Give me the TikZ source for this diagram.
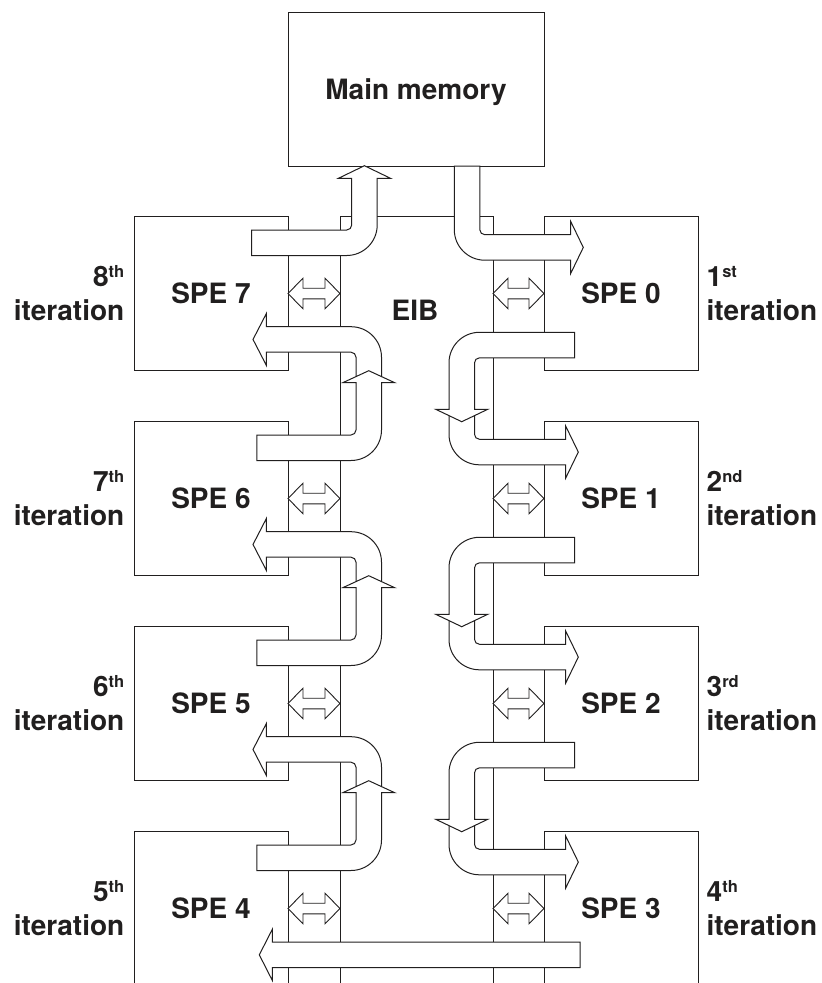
\documentclass[tikz,border=0pt]{standalone}
\usepackage{fontspec}
\setmainfont{TeX Gyre Heros}
\definecolor{ink}{rgb}{0.13,0.12,0.12}
\tikzset{
  box/.style={draw=ink, line width=1pt, minimum width=154pt, minimum height=154pt, inner sep=0pt,
    font=\fontsize{28}{33}\selectfont\bfseries, text=ink},
  fat/.style={draw=ink, fill=white, line width=1pt, line join=miter},
  thin/.style={draw=ink, fill=white, line width=0.9pt, line join=miter},
  bus/.style={draw=ink, line width=1pt},
  lbl/.style={font=\fontsize{28}{33}\selectfont\bfseries, text=ink, inner sep=0pt},
}
% superscript ordinal
\newcommand\ordn[2]{#1\raisebox{9pt}{\fontsize{16.5}{16.5}\selectfont #2}}
% D-type: down then right.  #1 xo, #2 ytop, #3 ya, #4 head base x, #5 tip x
\newcommand\fatD[5]{%
  \pgfmathsetmacro\pxi{#1+25.5}\pgfmathsetmacro\pyb{#3+25.5}\pgfmathsetmacro\pyc{#3+12.75}%
  \draw[fat] (\pxi,#2) -- (\pxi,{#3-5}) arc[start angle=180,end angle=90,radius=5]
    -- (#4,#3) -- (#4,{\pyc-26}) -- (#5,\pyc) -- (#4,{\pyc+26}) -- (#4,\pyb)
    -- ({#1+30.5},\pyb) arc[start angle=90,end angle=180,radius=30.5] -- (#1,#2) -- cycle;}
% C-type: left then down.  #1 xtail, #2 ya, #3 xo, #4 head base y, #5 tip y
\newcommand\fatC[5]{%
  \pgfmathsetmacro\pxi{#3+25.5}\pgfmathsetmacro\pyb{#2+25.5}\pgfmathsetmacro\pxc{#3+12.75}%
  \draw[fat] (#1,#2) -- ({#3+30.5},#2) arc[start angle=270,end angle=180,radius=30.5]
    -- (#3,#4) -- ({\pxc-26},#4) -- (\pxc,#5) -- ({\pxc+26},#4) -- (\pxi,#4)
    -- (\pxi,{\pyb+5}) arc[start angle=180,end angle=270,radius=5] -- (#1,\pyb) -- cycle;}
% F-type: right then up.  #1 xtail, #2 ya, #3 xi, #4 head base y, #5 tip y
\newcommand\fatF[5]{%
  \pgfmathsetmacro\pxo{#3+25.5}\pgfmathsetmacro\pyb{#2+25.5}\pgfmathsetmacro\pxc{#3+12.75}%
  \draw[fat] (#1,\pyb) -- ({\pxo-30.5},\pyb) arc[start angle=90,end angle=0,radius=30.5]
    -- (\pxo,#4) -- ({\pxc+26},#4) -- (\pxc,#5) -- ({\pxc-26},#4) -- (#3,#4)
    -- (#3,{#2-5}) arc[start angle=0,end angle=90,radius=5] -- (#1,#2) -- cycle;}
% E-type: up then left.  #1 xi, #2 ybot, #3 ya, #4 head base x, #5 tip x
\newcommand\fatE[5]{%
  \pgfmathsetmacro\pxo{#1+25.5}\pgfmathsetmacro\pyb{#3+25.5}\pgfmathsetmacro\pyc{#3+12.75}%
  \draw[fat] (#1,#2) -- (#1,{\pyb+5}) arc[start angle=0,end angle=-90,radius=5]
    -- (#4,\pyb) -- (#4,{\pyc+26}) -- (#5,\pyc) -- (#4,{\pyc-26}) -- (#4,#3)
    -- ({\pxo-30.5},#3) arc[start angle=270,end angle=360,radius=30.5] -- (\pxo,#2) -- cycle;}
% small double arrow: #1 x left tip, #2 x right tip, #3 y centre
\newcommand\dblarr[3]{%
  \draw[thin] (#1,#3) -- ({#1+15},{#3-15.3}) -- ({#1+15},{#3-5.3}) -- ({#2-15},{#3-5.3})
    -- ({#2-15},{#3-15.3}) -- (#2,#3) -- ({#2-15},{#3+15.3}) -- ({#2-15},{#3+5.3})
    -- ({#1+15},{#3+5.3}) -- ({#1+15},{#3+15.3}) -- cycle;}
\begin{document}
\begin{tikzpicture}[x=1pt,y=-1pt]
\useasboundingbox (0,0) rectangle (822,983);
\clip (0,0) rectangle (822,983);
% main memory
\node[box, minimum width=256pt, text depth=0pt] (mm) at (416,89) {Main memory};
% EIB outline
\coordinate (eibbl) at (340,995);
\coordinate (eibbr) at (493,995);
\draw[bus] (eibbl) -- (340,216.7) -- (493,216.7) -- (eibbr);
\node[lbl] (eib) at (415,310) {EIB};
% SPE boxes
\node[box] (spe7) at (211,293.7) {SPE 7};
\node[box] (spe6) at (211,498.7) {SPE 6};
\node[box] (spe5) at (211,703.7) {SPE 5};
\node[box] (spe4) at (211,908.7) {SPE 4};
\node[box] (spe0) at (621,293.7) {SPE 0};
\node[box] (spe1) at (621,498.7) {SPE 1};
\node[box] (spe2) at (621,703.7) {SPE 2};
\node[box] (spe3) at (621,908.7) {SPE 3};
% iteration labels
\node[lbl, anchor=base east] (o7) at (124.5,286.7) {\ordn{8}{th}};
\node[lbl, anchor=base east] (i7) at (124.5,320) {iteration};
\node[lbl, anchor=base east] (o6) at (124.5,491.7) {\ordn{7}{th}};
\node[lbl, anchor=base east] (i6) at (124.5,525) {iteration};
\node[lbl, anchor=base east] (o5) at (124.5,696.7) {\ordn{6}{th}};
\node[lbl, anchor=base east] (i5) at (124.5,730) {iteration};
\node[lbl, anchor=base east] (o4) at (124.5,901.7) {\ordn{5}{th}};
\node[lbl, anchor=base east] (i4) at (124.5,935) {iteration};
\node[lbl, anchor=base west] (o0) at (706.5,286.7) {\ordn{1}{st}};
\node[lbl, anchor=base west] (i0) at (706.5,320) {iteration};
\node[lbl, anchor=base west] (o1) at (706.5,491.7) {\ordn{2}{nd}};
\node[lbl, anchor=base west] (i1) at (706.5,525) {iteration};
\node[lbl, anchor=base west] (o2) at (706.5,696.7) {\ordn{3}{rd}};
\node[lbl, anchor=base west] (i2) at (706.5,730) {iteration};
\node[lbl, anchor=base west] (o3) at (706.5,901.7) {\ordn{4}{th}};
\node[lbl, anchor=base west] (i3) at (706.5,935) {iteration};
% SPE <-> EIB double arrows
\foreach \k in {0,1,2,3}{
  \pgfmathsetmacro\yy{293.5+205*\k}
  \dblarr{288}{340}{\yy}
  \dblarr{493}{544}{\yy}
}
% right column: loops SPE k -> SPE k+1
\foreach \k in {0,1,2}{
  \pgfmathsetmacro\dA{412.5+205*\k}
  \pgfmathsetmacro\dB{439.3+205*\k}
  \fatD{449}{\dA}{\dB}{565.7}{578.3}
  \pgfmathsetmacro\cA{332.3+205*\k}
  \pgfmathsetmacro\cB{409.3+205*\k}
  \pgfmathsetmacro\cC{421.7+205*\k}
  \fatC{574.5}{\cA}{449}{\cB}{\cC}
}
% left column: loops SPE 4 -> 5 -> 6 -> 7
\foreach \k in {0,1,2}{
  \pgfmathsetmacro\eA{380+205*\k}
  \pgfmathsetmacro\eB{326.7+205*\k}
  \fatE{356}{\eA}{\eB}{266.4}{253}
  \pgfmathsetmacro\fA{435+205*\k}
  \pgfmathsetmacro\fB{382.7+205*\k}
  \pgfmathsetmacro\fC{370.7+205*\k}
  \fatF{256.8}{\fA}{356}{\fB}{\fC}
}
% SPE 7 -> main memory
\fatF{251.7}{230}{351.7}{178.3}{165.7}
% main memory -> SPE 0
\fatD{454.3}{166}{234.7}{570.7}{583.3}
% SPE 3 -> SPE 4
\draw[fat] (580,942) -- (272.3,942) -- (272.3,929.3) -- (259.3,954.85)
  -- (272.3,980.4) -- (272.3,967.7) -- (580,967.7) -- cycle;
\end{tikzpicture}
\end{document}
